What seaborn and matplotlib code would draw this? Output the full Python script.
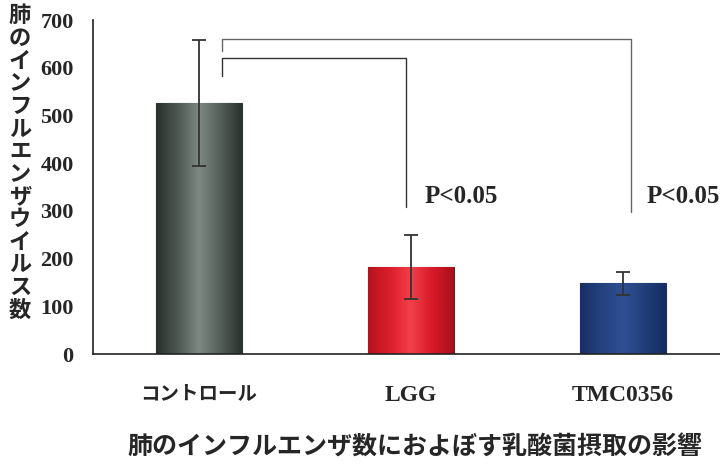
import numpy as np
import pandas as pd
import seaborn as sns
import matplotlib.pyplot as plt
from matplotlib.colors import LinearSegmentedColormap
from matplotlib.font_manager import FontProperties

# データ
groups = ['コントロール', 'LGG', 'TMC0356']
means = [527, 182, 148]
errs = [132, 67, 24]
p_labels = ['P<0.05', 'P<0.05']

sns.set_style('white')
plt.rcParams['font.family'] = ['Liberation Serif', 'Noto Sans CJK JP', 'DejaVu Sans']

df = pd.DataFrame({'group': groups, 'value': means})

fig = plt.figure(figsize=(7.2, 4.65), dpi=100)
ax = fig.add_axes([93 / 720, 1 - 354 / 465, 1 - 93 / 720, (354 - 20) / 465])

sns.barplot(data=df, x='group', y='value', ax=ax, width=0.405,
            color='white', edgecolor='#333333', linewidth=0.8)

# 円柱っぽいグラデーション
shades = [['#28302c', '#4d5752', '#7f8984', '#555f5a', '#2a322e'],
          ['#b5121f', '#dc1e2b', '#f2404a', '#d81a28', '#a8101c'],
          ['#172f66', '#24427f', '#2f4f92', '#223f7c', '#162d62']]
for patch, cols in zip(ax.patches, shades):
    cmap = LinearSegmentedColormap.from_list('g', cols)
    x0, y0 = patch.get_x(), patch.get_y()
    w, h = patch.get_width(), patch.get_height()
    grad = np.linspace(0, 1, 200).reshape(1, -1)
    im = ax.imshow(grad, cmap=cmap, aspect='auto', extent=[x0, x0 + w, y0, y0 + h],
                   zorder=patch.get_zorder() + 0.1)
    im.set_clip_path(patch)

ax.errorbar(x=range(len(groups)), y=means, yerr=errs, fmt='none', ecolor='#333333',
            elinewidth=1.3, capsize=5, capthick=1.3, zorder=5)

# 有意差のブラケット
ax.plot([0.11, 0.11, 2.04, 2.04], [634, 660, 660, 298], color='#666666', lw=1, zorder=4)
ax.plot([0.11, 0.11, 0.976, 0.976], [582, 620, 620, 309], color='#333333', lw=1, zorder=4)
ax.text(1.236, 330, p_labels[0], ha='center', va='center', fontsize=18, fontweight='bold')
ax.text(2.283, 330, p_labels[1], ha='center', va='center', fontsize=18, fontweight='bold')

ax.set_ylim(0, 700)
ax.set_xlim(-0.5, 2.458)
ax.set_yticks(range(0, 701, 100))
ax.set_xlabel('')
ax.set_ylabel('')
for s in ['top', 'right']:
    ax.spines[s].set_visible(False)
for s in ['left', 'bottom']:
    ax.spines[s].set_color('#222222')
    ax.spines[s].set_linewidth(1.2)

ax.tick_params(axis='y', direction='in', length=8, width=1, pad=14, labelsize=16)
ax.tick_params(axis='x', length=0, pad=22, labelsize=17)
ax.set_xticks([0.5, 1.5], minor=True)
ax.tick_params(axis='x', which='minor', direction='in', length=4, width=1)
for lab in ax.get_yticklabels() + ax.get_xticklabels():
    lab.set_fontweight('bold')
jp = ax.get_xticklabels()[0]
jp.set_fontproperties(FontProperties(family='Noto Sans CJK JP', weight='bold', size=14))

fig.text(20 / 720, 1 - 163 / 465, '\n'.join('肺のインフルエンザウイルス数'),
         ha='center', va='center', fontsize=16, linespacing=0.98, fontweight='semibold',
         family=['Noto Sans CJK JP', 'DejaVu Sans'])
fig.text(415 / 720, 1 - 448 / 465, '肺のインフルエンザ数におよぼす乳酸菌摂取の影響',
         ha='center', va='center', fontsize=18, fontweight='semibold',
         family=['Noto Sans CJK JP', 'DejaVu Sans'])

fig.savefig('out.png', dpi=100)
